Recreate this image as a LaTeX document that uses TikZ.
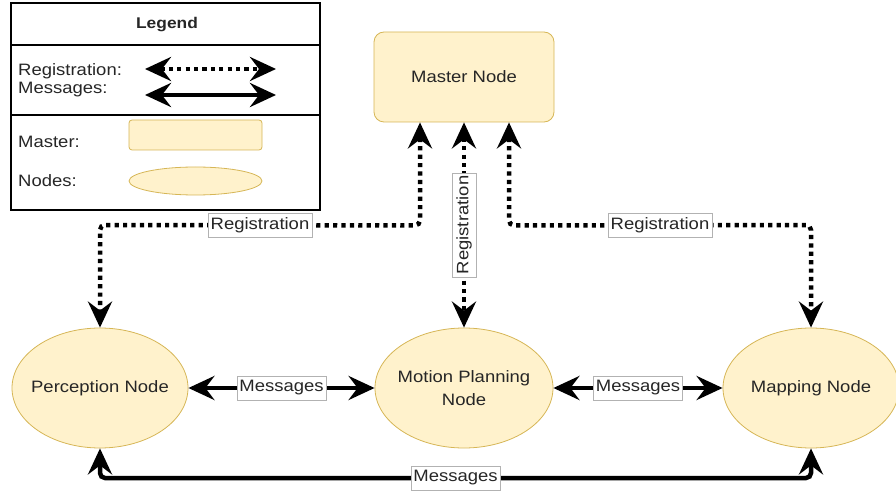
\documentclass[tikz,border=0pt]{standalone}
\usepackage{fontspec}
\setmainfont{Liberation Sans}[FakeStretch=1.12]
\usetikzlibrary{arrows.meta,shapes.geometric}
\definecolor{nodefill}{HTML}{FFF2CC}
\definecolor{nodeline}{HTML}{D6B656}
\tikzset{>={Stealth[length=26pt,width=24pt,inset=9pt]}}
\tikzset{
  every node/.style={font=\fontsize{16.5}{23}\selectfont, text=black!85},
  masterbox/.style={draw=nodeline, fill=nodefill, rounded corners=10pt, line width=0.8pt},
  rosnode/.style={ellipse, draw=nodeline, fill=nodefill, line width=0.8pt, inner xsep=-8pt, inner ysep=0pt, align=center},
  reglink/.style={<->, line width=4.5pt, dash pattern=on 4.2pt off 4.2pt, rounded corners=5pt},
  msglink/.style={<->, line width=4.5pt, rounded corners=5pt},
  linklabel/.style={solid, sharp corners, fill=white, draw=black!30, line width=0.6pt,
    inner xsep=2.5pt, inner ysep=0pt, minimum height=24pt},
  legendtext/.style={anchor=west, inner sep=0pt},
}

\begin{document}
\begin{tikzpicture}[x=1pt,y=1pt]
\useasboundingbox (0,0) rectangle (896,493);
% legend
\draw[line width=1.2pt] (11,283) rectangle (320,490);
\draw[line width=1.2pt] (11,448) -- (320,448);
\draw[line width=1.2pt] (11,378) -- (320,378);
\node[font=\fontsize{15.5}{18}\selectfont\bfseries] (legendtitle) at (167,468) {Legend};
\node[legendtext] (reglbl) at (18,422) {Registration:};
\node[legendtext] (msglbl) at (18,403) {Messages:};
\coordinate (regA) at (145,424);
\coordinate (regB) at (276,424);
\draw[reglink] (regA) -- (regB);
\coordinate (msgA) at (145,398);
\coordinate (msgB) at (276,398);
\draw[msglink] (msgA) -- (msgB);
\node[legendtext] (masterlbl) at (18,351) {Master:};
\node[masterbox, rounded corners=3pt, minimum width=133pt, minimum height=30pt] (mastersample) at (195.5,358) {};
\node[legendtext] (nodeslbl) at (18,312) {Nodes:};
\node[rosnode, minimum width=133pt, minimum height=28pt] (nodesample) at (195.5,312) {};

% nodes
\node[masterbox, minimum width=180pt, minimum height=90pt] (master) at (464,416) {Master Node};
\node[rosnode, minimum width=176pt, minimum height=120pt] (perception) at (100,105) {Perception Node};
\node[rosnode, minimum width=178pt, minimum height=120pt] (motion) at (464,105) {Motion Planning\\Node};
\node[rosnode, minimum width=176pt, minimum height=120pt] (mapping) at (811,105) {Mapping Node};

% registration
\draw[reglink] ([xshift=-44pt]master.south) -- ++(0,-103)
  -- node[linklabel] {Registration} (perception.north |- 0,268) -- (perception.north);
\draw[reglink] (master.south) -- node[linklabel,rotate=90] {Registration} (motion.north);
\draw[reglink] ([xshift=45pt]master.south) -- ++(0,-103)
  -- node[linklabel] {Registration} (mapping.north |- 0,268) -- (mapping.north);

% messages
\draw[msglink] (perception.east) -- node[linklabel] {Messages} (motion.west);
\draw[msglink] (motion.east) -- node[linklabel] {Messages} (mapping.west);
\draw[msglink] (perception.south) -- (perception.south |- 0,15)
  -- node[linklabel] {Messages} (mapping.south |- 0,15) -- (mapping.south);
\end{tikzpicture}
\end{document}
